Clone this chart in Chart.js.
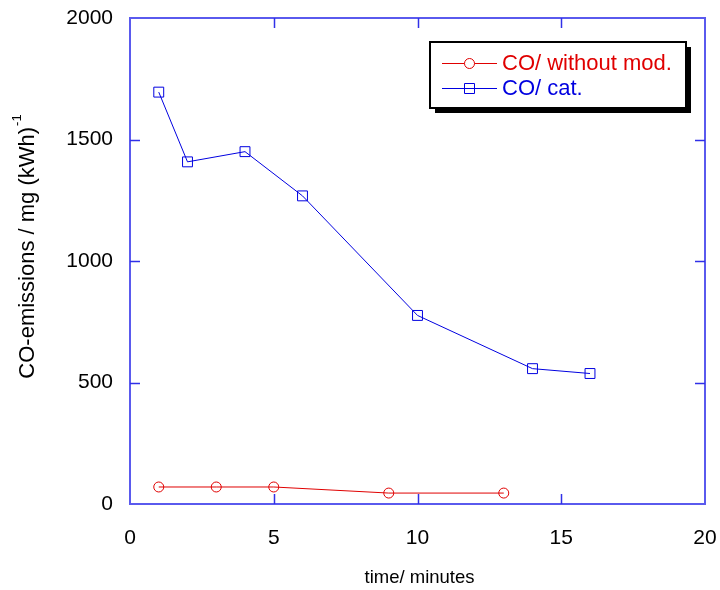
<!DOCTYPE html>
<html>
<head>
<meta charset="utf-8">
<script src="https://cdn.jsdelivr.net/npm/chart.js@4"></script>
<style>
  html, body { margin: 0; padding: 0; background: #fff; }
  #wrap { width: 720px; height: 590px; }
</style>
</head>
<body>
<div id="wrap"><canvas id="coChart" width="720" height="590"></canvas></div>
<script>
// ===== データ=====
const timeNoMod = [1, 3, 5, 9, 13];
const coNoMod   = [70, 70, 70, 45, 45];
const timeCat   = [1, 2, 4, 6, 10, 14, 16];
const coCat     = [1695, 1408, 1450, 1268, 776, 557, 537];
const xTicks    = [0, 5, 10, 15, 20];
const yTicks    = [0, 500, 1000, 1500, 2000];
const seriesLabels = ['CO/ without mod.', 'CO/ cat.'];

const RED  = '#e00000';
const BLUE = '#0000e0';
const FRAME = '#5a5aee';
const FONT = '"Liberation Sans", Arial, sans-serif';

// 枠・内向き目盛り・軸タイトル・凡例を描くプラグイン
const framePlugin = {
  id: 'frame',
  afterDraw(chart) {
    const { ctx, chartArea: a, scales: { x, y } } = chart;
    ctx.save();
    ctx.strokeStyle = FRAME;
    ctx.lineWidth = 2;
    ctx.strokeRect(a.left, a.top, a.right - a.left, a.bottom - a.top);

    // inward ticks on all four sides
    ctx.lineWidth = 1.5;
    ctx.strokeStyle = '#3030e8';
    const len = 10;
    ctx.beginPath();
    xTicks.slice(1, -1).forEach(v => {
      const px = Math.round(x.getPixelForValue(v)) + 0.5;
      ctx.moveTo(px, a.bottom); ctx.lineTo(px, a.bottom - len);
      ctx.moveTo(px, a.top); ctx.lineTo(px, a.top + len);
    });
    yTicks.slice(1, -1).forEach(v => {
      const py = Math.round(y.getPixelForValue(v)) + 0.5;
      ctx.moveTo(a.left, py); ctx.lineTo(a.left + len, py);
      ctx.moveTo(a.right, py); ctx.lineTo(a.right - len, py);
    });
    ctx.stroke();

    // y axis title with superscript
    ctx.fillStyle = '#000';
    ctx.translate(28, 247);
    ctx.rotate(-Math.PI / 2);
    ctx.font = '22px ' + FONT;
    const main = 'CO-emissions / mg (kWh)';
    const wMain = ctx.measureText(main).width;
    ctx.font = '13px ' + FONT;
    const sup = '-1';
    const wSup = ctx.measureText(sup).width;
    const start = -(wMain + wSup) / 2;
    ctx.textBaseline = 'middle';
    ctx.textAlign = 'left';
    ctx.font = '22px ' + FONT;
    ctx.fillText(main, start, 0);
    ctx.font = '13px ' + FONT;
    ctx.fillText(sup, start + wMain + 1, -11);
    ctx.restore();

    // x axis title
    ctx.save();
    ctx.fillStyle = '#000';
    ctx.font = '18.5px ' + FONT;
    ctx.textAlign = 'center';
    ctx.textBaseline = 'middle';
    ctx.fillText('time/ minutes', (a.left + a.right) / 2 + 2, 578);
    ctx.restore();

    // legend box with shadow
    ctx.save();
    const bx = 430, by = 42, bw = 256, bh = 66;
    ctx.fillStyle = '#000';
    ctx.fillRect(bx + 5, by + 5, bw, bh);
    ctx.fillStyle = '#fff';
    ctx.fillRect(bx, by, bw, bh);
    ctx.strokeStyle = '#000';
    ctx.lineWidth = 2;
    ctx.strokeRect(bx, by, bw, bh);
    ctx.font = '22px ' + FONT;
    ctx.textBaseline = 'middle';
    const rows = [
      { label: seriesLabels[0], color: RED, cy: 63, style: 'circle' },
      { label: seriesLabels[1], color: BLUE, cy: 88, style: 'rect' },
    ];
    rows.forEach(r => {
      ctx.strokeStyle = r.color;
      ctx.lineWidth = 1;
      ctx.beginPath();
      ctx.moveTo(442, r.cy + 0.5); ctx.lineTo(497, r.cy + 0.5);
      ctx.stroke();
      ctx.beginPath();
      if (r.style === 'circle') {
        ctx.fillStyle = '#fff';
        ctx.arc(469.5, r.cy + 0.5, 5, 0, Math.PI * 2);
        ctx.fill();
        ctx.stroke();
      } else {
        ctx.rect(464.5, r.cy - 4.5, 10, 10);
        ctx.stroke();
      }
      ctx.fillStyle = r.color;
      ctx.fillText(r.label, 502, r.cy + 1);
    });
    ctx.restore();
  }
};

const ctx = document.getElementById('coChart').getContext('2d');
new Chart(ctx, {
  type: 'line',
  data: {
    datasets: [
      {
        label: seriesLabels[0],
        data: timeNoMod.map((t, i) => ({ x: t, y: coNoMod[i] })),
        borderColor: RED, borderWidth: 1,
        pointStyle: 'circle', pointRadius: 5,
        pointBorderColor: RED, pointBackgroundColor: 'rgba(0,0,0,0)',
        pointBorderWidth: 1, tension: 0
      },
      {
        label: seriesLabels[1],
        data: timeCat.map((t, i) => ({ x: t, y: coCat[i] })),
        borderColor: BLUE, borderWidth: 1,
        pointStyle: 'rect', pointRadius: 7,
        pointBorderColor: BLUE, pointBackgroundColor: 'rgba(0,0,0,0)',
        pointBorderWidth: 1, tension: 0
      }
    ]
  },
  options: {
    responsive: false,
    animation: false,
    layout: { padding: { top: 18, right: 15, left: 0, bottom: 0 } },
    plugins: { legend: { display: false }, tooltip: { enabled: false } },
    scales: {
      x: {
        type: 'linear', min: 0, max: 20,
        afterBuildTicks: s => { s.ticks = xTicks.map(v => ({ value: v })); },
        afterFit: s => { s.height = 86; s.paddingLeft = 0; s.paddingRight = 0; },
        grid: { display: false },
        border: { display: false },
        ticks: {
          color: '#000', font: { size: 21, family: FONT }, padding: 14, maxRotation: 0,
          callback: v => String(v)
        }
      },
      y: {
        min: 0, max: 2000,
        afterBuildTicks: s => { s.ticks = yTicks.map(v => ({ value: v })); },
        afterFit: s => { s.width = 130; s.paddingTop = 0; s.paddingBottom = 0; },
        grid: { display: false },
        border: { display: false },
        ticks: {
          color: '#000', font: { size: 21, family: FONT }, padding: 9,
          callback: v => String(v)
        }
      }
    }
  },
  plugins: [framePlugin]
});
</script>
</body>
</html>
